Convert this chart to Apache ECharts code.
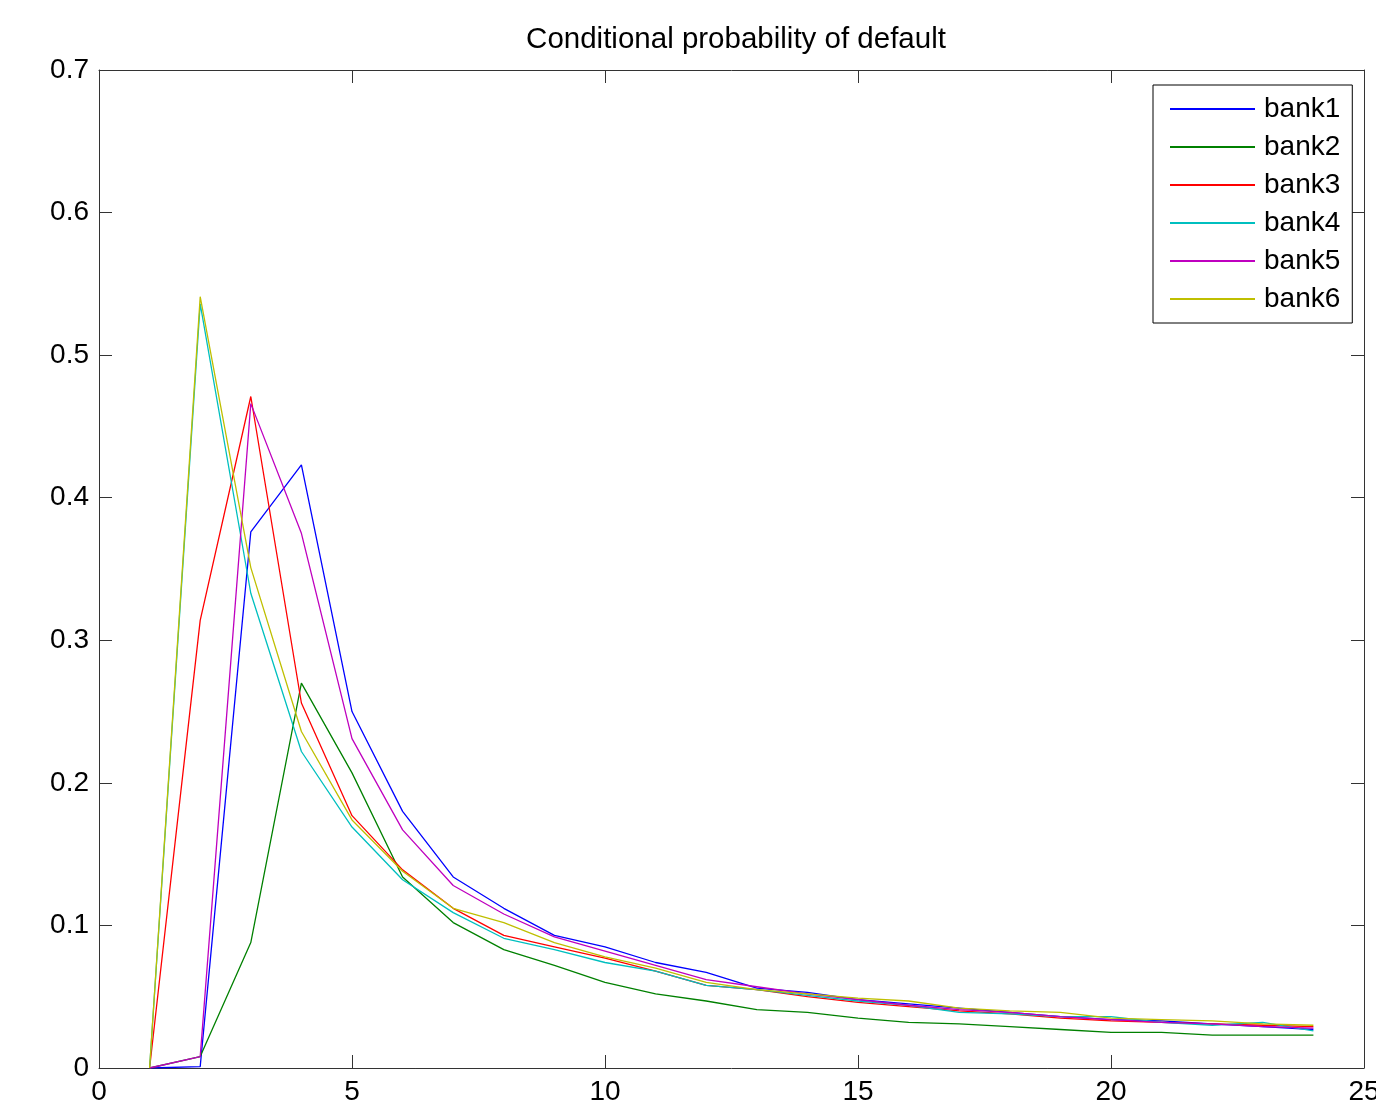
<!DOCTYPE html>
<html>
<head>
<meta charset="utf-8">
<script src="https://cdn.jsdelivr.net/npm/echarts@6/dist/echarts.min.js"></script>
<style>
  html, body { margin: 0; padding: 0; background: #fff; }
  #chart { width: 1376px; height: 1115px; }
</style>
</head>
<body>
<div id="chart"></div>
<script>
// horizon (x values)
const steps = [1, 2, 3, 4, 5, 6, 7, 8, 9, 10, 11, 12, 13, 14, 15, 16, 17, 18, 19, 20, 21, 22, 23, 24];

const bankNames = ['bank1', 'bank2', 'bank3', 'bank4', 'bank5', 'bank6'];

const bank1 = [0, 0.001, 0.376, 0.423, 0.250, 0.180, 0.134, 0.112, 0.093, 0.085, 0.074, 0.067, 0.056, 0.053, 0.048, 0.045, 0.042, 0.039, 0.036, 0.034, 0.033, 0.031, 0.029, 0.027];
const bank2 = [0, 0.008, 0.088, 0.270, 0.207, 0.134, 0.102, 0.083, 0.072, 0.060, 0.052, 0.047, 0.041, 0.039, 0.035, 0.032, 0.031, 0.029, 0.027, 0.025, 0.025, 0.023, 0.023, 0.023];
const bank3 = [0, 0.314, 0.471, 0.256, 0.177, 0.139, 0.112, 0.093, 0.085, 0.077, 0.068, 0.058, 0.055, 0.050, 0.046, 0.043, 0.040, 0.038, 0.035, 0.033, 0.032, 0.031, 0.030, 0.029];
const bank4 = [0, 0.536, 0.333, 0.222, 0.169, 0.132, 0.109, 0.091, 0.083, 0.074, 0.068, 0.058, 0.055, 0.051, 0.047, 0.044, 0.039, 0.038, 0.036, 0.036, 0.032, 0.030, 0.032, 0.026];
const bank5 = [0, 0.008, 0.466, 0.375, 0.231, 0.167, 0.128, 0.108, 0.092, 0.082, 0.072, 0.062, 0.057, 0.052, 0.048, 0.044, 0.041, 0.039, 0.036, 0.034, 0.032, 0.031, 0.029, 0.028];
const bank6 = [0, 0.541, 0.351, 0.236, 0.174, 0.138, 0.112, 0.102, 0.088, 0.078, 0.070, 0.060, 0.055, 0.052, 0.049, 0.047, 0.042, 0.040, 0.039, 0.035, 0.034, 0.033, 0.031, 0.030];

const bankValues = [bank1, bank2, bank3, bank4, bank5, bank6];

// old matlab line colours
const colors = ['#0000ff', '#008000', '#ff0000', '#00bfbf', '#bf00bf', '#bfbf00'];

const font = 'Arial, "Liberation Sans", sans-serif';
const frameColor = '#333';

//frame axis, mirrored on top/right with ticks only
function xAxisDef(pos, showLabel) {
    return {
        type: 'value',
        position: pos,
        min: 0,
        max: 25,
        interval: 5,
        axisLine: { show: true, onZero: false, lineStyle: { color: frameColor, width: 1 } },
        axisTick: { show: true, inside: true, length: 13, lineStyle: { color: frameColor } },
        axisLabel: { show: showLabel, color: '#000', fontSize: 28, fontFamily: font, margin: 10 },
        splitLine: { show: false }
    };
}

function yAxisDef(pos, showLabel) {
    return {
        type: 'value',
        position: pos,
        min: 0,
        max: 0.7,
        interval: 0.1,
        axisLine: { show: true, onZero: false, lineStyle: { color: frameColor, width: 1 } },
        axisTick: { show: true, inside: true, length: 13, lineStyle: { color: frameColor } },
        axisLabel: { show: showLabel, color: '#000', fontSize: 28, fontFamily: font, margin: 10 },
        splitLine: { show: false }
    };
}

const series = bankNames.map((name, i) => ({
    name: name,
    type: 'line',
    xAxisIndex: 0,
    yAxisIndex: 0,
    showSymbol: false,
    symbol: 'none',
    data: steps.map((s, k) => [s, bankValues[i][k]]),
    lineStyle: { color: colors[i], width: 1.3 },
    itemStyle: { color: colors[i] },
    animation: false
}));

const chart = echarts.init(document.getElementById('chart'));
chart.setOption({
    backgroundColor: '#fff',
    animation: false,
    title: {
        text: 'Conditional probability of default',
        left: 731,
        textAlign: 'center',
        top: 20,
        textStyle: { color: '#000', fontSize: 29.5, fontWeight: 'normal', fontFamily: font }
    },
    grid: { left: 99, right: 12, top: 70, bottom: 47, containLabel: false, outerBoundsMode: 'none' },
    xAxis: [xAxisDef('bottom', true), xAxisDef('top', false)],
    yAxis: [yAxisDef('left', true), yAxisDef('right', false)],
    legend: {
        data: bankNames,
        orient: 'vertical',
        left: 1153,
        top: 85,
        padding: [10, 12, 10, 17],
        itemGap: 10,
        itemWidth: 85,
        itemHeight: 2,
        icon: 'rect',
        backgroundColor: '#fff',
        borderColor: '#000',
        borderWidth: 1,
        borderRadius: 0,
        textStyle: { color: '#000', fontSize: 28, lineHeight: 28, fontFamily: font, padding: [0, 0, 0, 4] }
    },
    series: series
});
</script>
</body>
</html>
